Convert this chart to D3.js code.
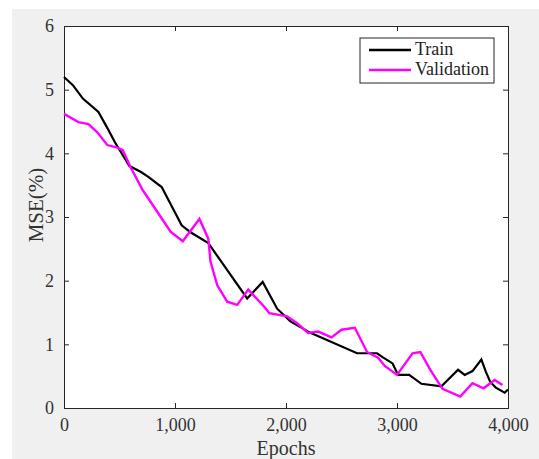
<html>
    <meta charset = "utf-8">
    <style>
    body {
      margin: 0;
      background: white;
    }
    </style>

    <body>
        <script src="https://d3js.org/d3.v7.min.js"></script>
        <script>

            // Train curve (epoch, MSE %)
            var trainEpochs = [0, 80, 170, 310, 390, 460, 590, 690, 760, 880, 1060, 1140, 1300, 1650, 1790, 1920, 2040, 2220, 2640, 2820, 2870, 2960, 3010, 3110, 3220, 3400, 3550, 3610, 3680, 3760, 3800, 3840, 3890, 3970, 4000];
            var trainMSE = [5.20, 5.07, 4.86, 4.65, 4.40, 4.17, 3.80, 3.71, 3.63, 3.47, 2.87, 2.76, 2.59, 1.72, 1.98, 1.56, 1.36, 1.18, 0.86, 0.86, 0.80, 0.70, 0.52, 0.52, 0.38, 0.34, 0.60, 0.52, 0.58, 0.76, 0.57, 0.41, 0.32, 0.24, 0.29];

            // Validation curve
            var valEpochs = [0, 130, 220, 300, 390, 480, 530, 600, 710, 780, 960, 1070, 1220, 1300, 1320, 1380, 1470, 1560, 1660, 1810, 1850, 2010, 2100, 2200, 2290, 2410, 2500, 2620, 2730, 2830, 2890, 3000, 3140, 3210, 3300, 3410, 3570, 3680, 3780, 3880, 3950];
            var valMSE = [4.62, 4.49, 4.46, 4.33, 4.13, 4.09, 4.05, 3.78, 3.42, 3.24, 2.77, 2.62, 2.97, 2.66, 2.30, 1.93, 1.67, 1.62, 1.86, 1.58, 1.49, 1.44, 1.33, 1.18, 1.20, 1.11, 1.23, 1.26, 0.88, 0.79, 0.66, 0.52, 0.86, 0.88, 0.60, 0.30, 0.18, 0.39, 0.31, 0.44, 0.36];

            var xTicks = [0, 1000, 2000, 3000, 4000];
            var yTicks = [0, 1, 2, 3, 4, 5, 6];
            var seriesNames = ["Train", "Validation"];
            var seriesColors = ["#000000", "#ff00ff"];

            var trainData = trainEpochs.map(function(e, i) { return {x: e, y: trainMSE[i]}; });
            var valData = valEpochs.map(function(e, i) { return {x: e, y: valMSE[i]}; });

            var W = 539, H = 459;
            var margin = {top: 26, right: 31, bottom: 51, left: 64};
            var width = W - margin.left - margin.right;
            var height = H - margin.top - margin.bottom;
            var serif = "Liberation Serif";

            var svg = d3.select("body").append("svg")
                .attr("width", W)
                .attr("height", H)
                .attr("font-family", serif);

            // gray figure background
            svg.append("rect")
                .attr("x", 12).attr("y", 9)
                .attr("width", W - 12).attr("height", H - 9)
                .attr("fill", "#f0f0f0");

            var g = svg.append("g")
                .attr("transform", "translate(" + margin.left + "," + margin.top + ")");

            var xScale = d3.scaleLinear().domain([0, 4000]).range([0, width]);
            var yScale = d3.scaleLinear().domain([0, 6]).range([height, 0]);

            g.append("rect")
                .attr("width", width).attr("height", height)
                .attr("fill", "white");

            var axisColor = "#262626";

            // axes, ticks pointing inside like matlab
            var xAxis = d3.axisBottom(xScale).tickValues(xTicks).tickSize(-5).tickPadding(9)
                .tickFormat(d3.format(","));
            var yAxis = d3.axisLeft(yScale).tickValues(yTicks).tickSize(-5).tickPadding(10)
                .tickFormat(d3.format("d"));

            var gx = g.append("g")
                .attr("transform", "translate(0," + height + ")")
                .call(xAxis);
            var gy = g.append("g").call(yAxis);
            var gxTop = g.append("g").call(d3.axisTop(xScale).tickValues(xTicks).tickSize(-5).tickFormat(""));
            var gyRight = g.append("g")
                .attr("transform", "translate(" + width + ",0)")
                .call(d3.axisRight(yScale).tickValues(yTicks).tickSize(-5).tickFormat(""));

            [gx, gy, gxTop, gyRight].forEach(function(a) {
                a.attr("font-family", serif).attr("font-size", 18);
                a.select(".domain").attr("stroke", axisColor);
                a.selectAll(".tick line").attr("stroke", axisColor);
                a.selectAll(".tick text").attr("fill", "#333");
            });
            gx.selectAll(".tick text").attr("dy", "0.8em");

            // lines
            var line = d3.line()
                .x(function(d) { return xScale(d.x); })
                .y(function(d) { return yScale(d.y); });

            g.append("path")
                .datum(trainData)
                .attr("d", line)
                .attr("fill", "none")
                .attr("stroke", seriesColors[0])
                .attr("stroke-width", 2.2);

            g.append("path")
                .datum(valData)
                .attr("d", line)
                .attr("fill", "none")
                .attr("stroke", seriesColors[1])
                .attr("stroke-width", 2.4);

            // axis labels
            svg.append("text")
                .attr("x", margin.left + width / 2)
                .attr("y", 455)
                .attr("text-anchor", "middle")
                .attr("fill", "#333")
                .attr("font-size", 20)
                .text("Epochs");

            svg.append("text")
                .attr("transform", "translate(36," + 205 + ") rotate(-90)")
                .attr("dy", "0.35em")
                .attr("text-anchor", "middle")
                .attr("fill", "#333")
                .attr("font-size", 21)
                .text("MSE(%)");

            // legend
            var legend = svg.append("g").attr("transform", "translate(360,38)");
            legend.append("rect")
                .attr("width", 134).attr("height", 45)
                .attr("fill", "white")
                .attr("stroke", axisColor)
                .attr("stroke-width", 1);

            seriesNames.forEach(function(name, i) {
                var yy = 12 + i * 20;
                legend.append("line")
                    .attr("x1", 9).attr("x2", 51)
                    .attr("y1", yy).attr("y2", yy)
                    .attr("stroke", seriesColors[i])
                    .attr("stroke-width", 2.4);
                legend.append("text")
                    .attr("x", 55).attr("y", yy + 5)
                    .attr("fill", "#222")
                    .attr("font-size", 18)
                    .text(name);
            });
        </script>
    </body>
</html>
